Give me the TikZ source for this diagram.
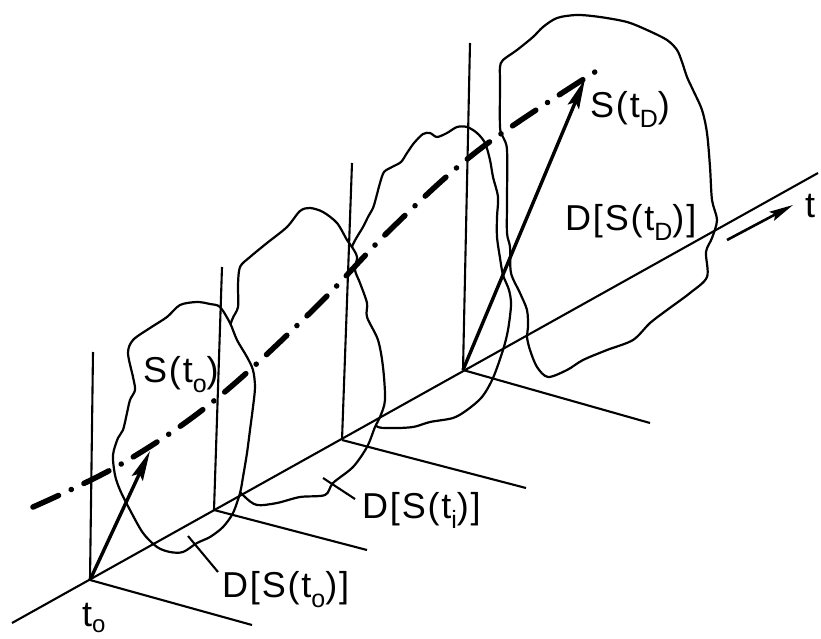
\documentclass[tikz,border=0pt]{standalone}
\usepackage{fontspec}
\setmainfont[LetterSpace=5]{Liberation Sans}
\usetikzlibrary{arrows.meta}
\newcommand\lsub[1]{\raisebox{-10pt}{\fontsize{25}{25}\selectfont #1}}
\newcommand\lsubb[1]{\raisebox{-6pt}{\fontsize{24}{24}\selectfont #1}}
\begin{document}
\begin{tikzpicture}[x=1pt,y=-1pt,
  blob/.style={draw=black, fill=white, line width=2.2pt, line join=round},
  axisline/.style={line width=2.1pt},
  traj/.style={line width=5.5pt, line cap=round, dash pattern=on 28pt off 14pt on 0.1pt off 14pt},
  vec/.style={line width=3.4pt, -{Stealth[length=30pt,width=12pt,inset=5pt]}},
  tarrow/.style={line width=2.6pt, -{Stealth[length=24pt,width=10pt,inset=4pt]}},
  lbl/.style={inner sep=0pt, anchor=base west, font=\fontsize{36}{40}\selectfont},
  leader/.style={line width=2.1pt}]
\useasboundingbox (0,0) rectangle (821,639);

% ---- cross sections, back to front ----
\draw[blob] plot[smooth cycle, tension=0.5] coordinates {
 (500,67) (503,60) (517,50) (533,37) (543,27) (557,18) (577,15) (600,17) (627,22)
 (647,30) (667,40) (677,50) (682,62) (687,77) (693,90) (702,110) (707,133) (710,167)
 (712,200) (717,220) (712,238) (706,252) (707,277) (690,293) (667,310) (650,323)
 (633,340) (607,350) (583,360) (567,370) (548,377) (537,367) (530,350) (527,337)
 (528,327) (527,310) (520,293) (511,273) (510,247) (507,233) (507,200) (507,150)
 (503,137) (500,127) (500,83)};
\draw[blob] plot[smooth cycle, tension=0.5] coordinates {
 (352,247) (363,227) (368,217) (373,208) (376,198) (380,183) (384,172) (392,167)
 (401,162) (407,153) (414,143) (423,134) (430,133) (437,137) (447,133) (457,127)
 (467,127) (477,133) (485,143) (490,160) (493,177) (498,197) (497,217) (497,237)
 (500,258) (503,275) (509,290) (511,305) (508,330) (503,350) (493,378) (482,397)
 (467,410) (453,418) (430,422) (413,427) (390,428) (375,425) (366,400) (358,330)
 (350,270)};
\draw[blob] plot[smooth cycle, tension=0.5] coordinates {
 (232,320) (238,307) (238,285) (240,267) (250,257) (267,243) (287,227) (300,211)
 (310,208) (323,212) (337,223) (347,240) (352,247) (357,257) (355,270) (360,283)
 (367,303) (367,317) (378,340) (383,367) (385,400) (380,417) (375,427) (367,447)
 (353,467) (333,483) (325,495) (300,497) (277,503) (257,505) (245,497) (236,485)
 (226,450) (222,400) (225,345)};
\draw[blob] plot[smooth cycle, tension=0.5] coordinates {
 (180,305) (197,302) (210,304) (220,307) (230,323) (237,340) (247,357) (253,370)
 (255,387) (253,407) (250,430) (247,453) (243,477) (240,493) (233,513) (223,527)
 (210,537) (197,543) (183,552) (170,552) (157,547) (143,533) (130,510) (120,490)
 (115,475) (113,455) (118,438) (123,430) (127,413) (130,400) (135,390) (133,377)
 (128,353) (133,340) (150,328) (167,317)};

% ---- frame coordinates ----
\coordinate (A0) at (12,623);
\coordinate (A1) at (818,173);
\coordinate (O0) at (90,580);
\coordinate (O1) at (214,510);
\coordinate (O2) at (342,440);
\coordinate (O3) at (463,370);
\coordinate (V0) at (93,352);
\coordinate (V1) at (222,267);
\coordinate (V2) at (352,163);
\coordinate (V3) at (470,43);
\coordinate (H0) at (252,625);
\coordinate (H1) at (367,550);
\coordinate (H2) at (526,488);
\coordinate (H3) at (650,423);

\draw[axisline] (A0) -- (A1);
\foreach \i in {0,1,2,3}{
  \draw[axisline] (O\i) -- (V\i);
  \draw[axisline] (O\i) -- (H\i);
}

% ---- trajectory ----
\draw[traj] plot[smooth, tension=0.6] coordinates {
 (33,507) (123,463) (215,400) (313,310) (393,227) (480,149) (598,70)};

% ---- state vectors ----
\coordinate (S0) at (150,451);
\coordinate (S3) at (585,79);
\draw[vec] (O0) -- (S0);
\draw[vec] (O3) -- (S3);

% ---- time arrow ----
\coordinate (T0) at (727,240);
\coordinate (T1) at (793,205);
\draw[tarrow] (T0) -- (T1);

% ---- labels ----
\node[lbl] (lS0) at (143,382) {S(t\lsub{o})};
\node[lbl] (lSD) at (590,118) {S(t\lsub{D})};
\node[lbl] (lDD) at (565,230) {D[S(t\lsub{D})]};
\node[lbl] (lDi) at (362,518) {D[S(t\lsub{i})]};
\node[lbl] (lD0) at (222,597) {D[S(t\lsub{o})]};
\node[lbl] (lt0) at (82,626) {t\lsubb{o}};
\node[lbl] (lt) at (805,217) {t};

\coordinate (P0a) at (188,536);
\coordinate (P0b) at (218,572);
\coordinate (P1a) at (323,478);
\coordinate (P1b) at (355,499);
\draw[leader] (P0a) -- (P0b);
\draw[leader] (P1a) -- (P1b);
\end{tikzpicture}
\end{document}
